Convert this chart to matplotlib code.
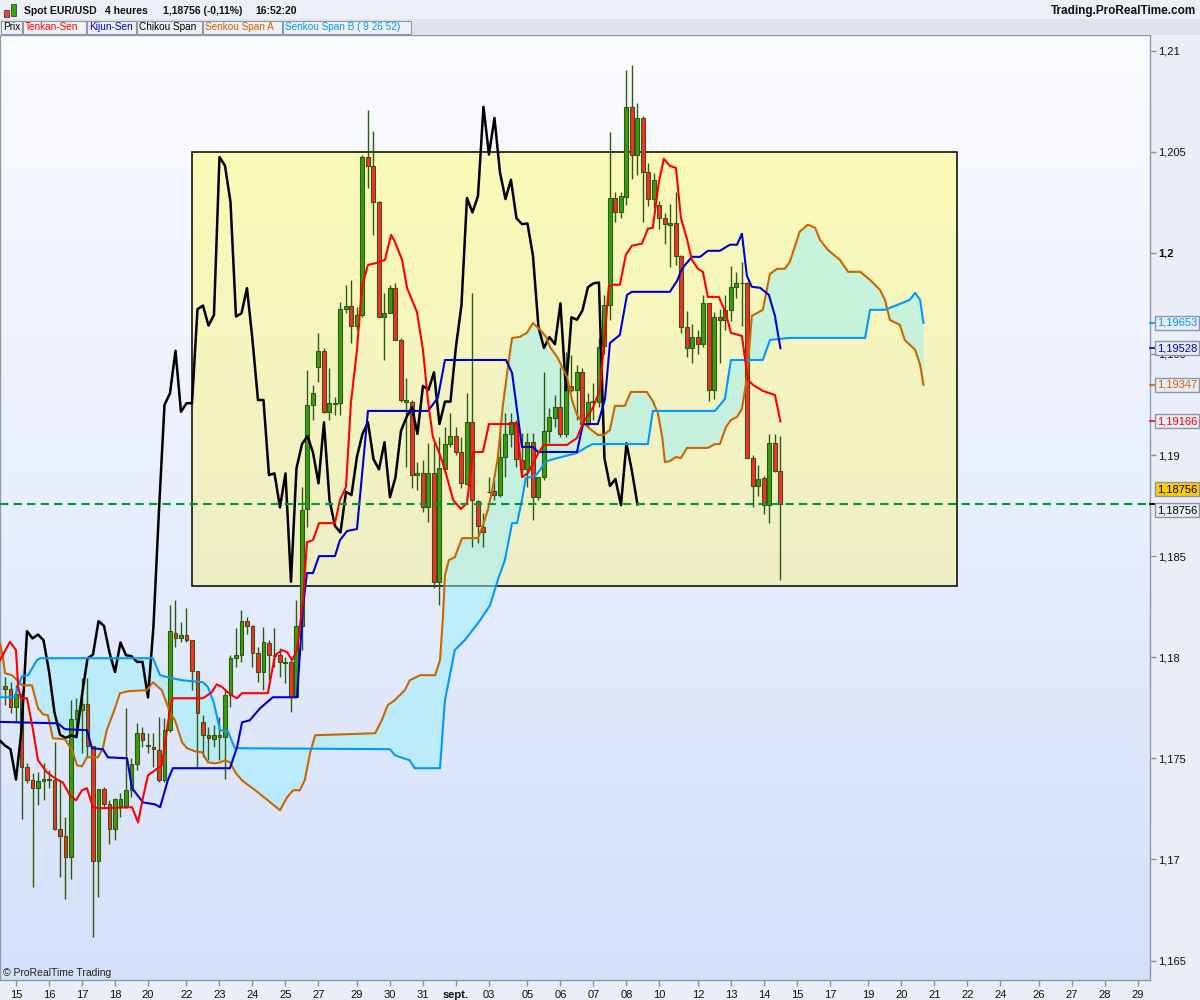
import numpy as np
import matplotlib
matplotlib.use("Agg")
import matplotlib.pyplot as plt
from matplotlib.patches import Rectangle
from matplotlib.colors import LinearSegmentedColormap
from matplotlib.transforms import blended_transform_factory

plt.rcParams['font.family'] = ['Liberation Sans', 'DejaVu Sans']

# EUR/USD 4h candles, bar 0 = first bar visible on the left edge
opens = [1.17858, 1.17845, 1.17754, 1.17820, 1.17457, 1.17395, 1.17355, 1.17388, 1.17398, 1.17391,
         1.17152, 1.17114, 1.17012, 1.17692, 1.17738, 1.17771, 1.17560, 1.16992, 1.17350, 1.17276,
         1.17152, 1.17264, 1.17264, 1.17342, 1.17474, 1.17627, 1.17560, 1.17556, 1.17540, 1.17391,
         1.17639, 1.18122, 1.18093, 1.18112, 1.18084, 1.17931, 1.17682, 1.17617, 1.17594, 1.17613,
         1.17606, 1.17812, 1.17994, 1.18013, 1.18178, 1.18155, 1.18023, 1.17927, 1.18068, 1.18010,
         1.18010, 1.17972, 1.17977, 1.17801, 1.18155, 1.18731, 1.19248, 1.19437, 1.19515, 1.19214,
         1.19252, 1.19256, 1.19721, 1.19739, 1.19640, 1.19690, 1.20474, 1.20431, 1.20251, 1.19685,
         1.19701, 1.19825, 1.19569, 1.19264, 1.19264, 1.18901, 1.18909, 1.18741, 1.18909, 1.18373,
         1.18929, 1.19054, 1.19094, 1.19013, 1.18856, 1.19162, 1.18772, 1.18645, 1.18815, 1.18822,
         1.18802, 1.18992, 1.19104, 1.19162, 1.18975, 1.18929, 1.19063, 1.18791, 1.18890, 1.19119,
         1.19182, 1.19236, 1.19104, 1.19343, 1.19322, 1.19409, 1.19153, 1.19262, 1.19264, 1.19538,
         1.19741, 1.20271, 1.20200, 1.20278, 1.20722, 1.20486, 1.20667, 1.20398, 1.20266, 1.20236,
         1.20171, 1.20140, 1.20145, 1.19986, 1.19633, 1.19530, 1.19583, 1.19548, 1.19750, 1.19320,
         1.19681, 1.19669, 1.19715, 1.19830, 1.19849, 1.19853, 1.18984, 1.18847, 1.18884, 1.18752,
         1.19058, 1.18920]
highs = [1.17903, 1.17878, 1.17861, 1.17828, 1.17475, 1.17426, 1.17432, 1.17475, 1.17441, 1.17581,
         1.17391, 1.17210, 1.17787, 1.17797, 1.17896, 1.17896, 1.17560, 1.17350, 1.17358, 1.17292,
         1.17302, 1.17327, 1.17748, 1.17500, 1.17673, 1.17655, 1.17624, 1.17624, 1.17703, 1.17698,
         1.18257, 1.18282, 1.18175, 1.18243, 1.18084, 1.17931, 1.17713, 1.17655, 1.17663, 1.17705,
         1.17837, 1.18010, 1.18142, 1.18233, 1.18200, 1.18159, 1.18051, 1.18150, 1.18084, 1.18144,
         1.18045, 1.18002, 1.17985, 1.18282, 1.18843, 1.19421, 1.19347, 1.19602, 1.19530, 1.19431,
         1.19289, 1.19759, 1.19842, 1.19866, 1.19734, 1.20485, 1.20708, 1.20600, 1.20254, 1.19800,
         1.19842, 1.19850, 1.19578, 1.19380, 1.19272, 1.18967, 1.18975, 1.19058, 1.19058, 1.19091,
         1.19140, 1.19206, 1.19140, 1.19091, 1.19305, 1.19800, 1.18777, 1.18711, 1.18893, 1.18876,
         1.19115, 1.19206, 1.19206, 1.19173, 1.19107, 1.19107, 1.19107, 1.18893, 1.19412, 1.19231,
         1.19297, 1.19437, 1.19511, 1.19495, 1.19446, 1.19429, 1.19305, 1.19355, 1.19578, 1.19792,
         1.20599, 1.20302, 1.20302, 1.20906, 1.20931, 1.20742, 1.20678, 1.20445, 1.20396, 1.20257,
         1.20198, 1.20242, 1.20302, 1.19990, 1.19710, 1.19646, 1.19619, 1.19792, 1.19750, 1.19708,
         1.19723, 1.19792, 1.19936, 1.19906, 1.19953, 1.19856, 1.19000, 1.18950, 1.18898, 1.19104,
         1.19104, 1.19096]
lows = [1.17763, 1.17723, 1.17680, 1.17202, 1.17376, 1.16863, 1.17267, 1.17292, 1.17352, 1.17144,
        1.16913, 1.16806, 1.16905, 1.17599, 1.17525, 1.17507, 1.16616, 1.16814, 1.17259, 1.17078,
        1.17094, 1.17210, 1.17253, 1.17309, 1.17441, 1.17556, 1.17525, 1.17457, 1.17381, 1.17381,
        1.17629, 1.18051, 1.18076, 1.18076, 1.17837, 1.17457, 1.17507, 1.17490, 1.17556, 1.17490,
        1.17400, 1.17754, 1.17952, 1.17977, 1.18117, 1.17952, 1.17878, 1.17837, 1.17886, 1.17952,
        1.17903, 1.17870, 1.17729, 1.17801, 1.18035, 1.18645, 1.19173, 1.19363, 1.19208, 1.19173,
        1.19198, 1.19198, 1.19701, 1.19553, 1.19619, 1.19685, 1.20320, 1.20089, 1.19685, 1.19470,
        1.19701, 1.19569, 1.19264, 1.18942, 1.18835, 1.18827, 1.18719, 1.18670, 1.18340, 1.18258,
        1.18917, 1.19041, 1.19000, 1.18835, 1.18852, 1.18546, 1.18563, 1.18546, 1.18810, 1.18777,
        1.18794, 1.18893, 1.19041, 1.18942, 1.18893, 1.18843, 1.18678, 1.18777, 1.18876, 1.19058,
        1.19140, 1.19091, 1.19091, 1.19313, 1.19173, 1.19140, 1.19132, 1.19173, 1.19239, 1.19500,
        1.19668, 1.20153, 1.20173, 1.20238, 1.20366, 1.20386, 1.20153, 1.20233, 1.20223, 1.20119,
        1.20044, 1.19931, 1.19940, 1.19604, 1.19483, 1.19457, 1.19500, 1.19535, 1.19267, 1.19277,
        1.19455, 1.19619, 1.19663, 1.19777, 1.19639, 1.18984, 1.18743, 1.18795, 1.18709, 1.18666,
        1.18915, 1.18381]
closes = [1.17845, 1.17754, 1.17820, 1.17457, 1.17395, 1.17355, 1.17388, 1.17398, 1.17391, 1.17152,
          1.17114, 1.17012, 1.17692, 1.17738, 1.17771, 1.17560, 1.16992, 1.17350, 1.17276, 1.17152,
          1.17301, 1.17301, 1.17342, 1.17474, 1.17627, 1.17589, 1.17563, 1.17545, 1.17395, 1.17639,
          1.18129, 1.18093, 1.18112, 1.18084, 1.17931, 1.17726, 1.17617, 1.17601, 1.17613, 1.17606,
          1.17812, 1.17994, 1.18013, 1.18178, 1.18155, 1.18023, 1.17927, 1.18073, 1.18010, 1.18005,
          1.17977, 1.17977, 1.17801, 1.18155, 1.18728, 1.19248, 1.19305, 1.19515, 1.19214, 1.19256,
          1.19256, 1.19721, 1.19739, 1.19640, 1.19693, 1.20474, 1.20431, 1.20251, 1.19685, 1.19701,
          1.19825, 1.19569, 1.19272, 1.19272, 1.18901, 1.18909, 1.18741, 1.18909, 1.18373, 1.18934,
          1.19054, 1.19094, 1.19013, 1.18860, 1.19162, 1.18777, 1.18649, 1.18617, 1.18818, 1.18802,
          1.18992, 1.19104, 1.19162, 1.18980, 1.18929, 1.19063, 1.18791, 1.18890, 1.19119, 1.19187,
          1.19236, 1.19104, 1.19342, 1.19322, 1.19409, 1.19153, 1.19264, 1.19264, 1.19536, 1.19741,
          1.20271, 1.20200, 1.20280, 1.20722, 1.20486, 1.20667, 1.20398, 1.20266, 1.20361, 1.20171,
          1.20142, 1.20145, 1.19986, 1.19633, 1.19530, 1.19583, 1.19548, 1.19750, 1.19320, 1.19681,
          1.19669, 1.19715, 1.19830, 1.19849, 1.19853, 1.18984, 1.18847, 1.18881, 1.18752, 1.19058,
          1.18920, 1.18756]

# Ichimoku lines, vertices (bar index, price)
tenkan_idx = [-0.9, 0.9, 2.0, 2.4, 2.9, 4.0, 5.1, 6.0, 7.6, 9.1, 10.5, 11.8, 12.9, 14.0, 14.9, 16.0, 17.3,
              23.1, 24.2, 25.1, 26.0, 28.5, 30.0, 30.5, 36.0, 37.6, 38.5, 39.5, 40.9, 42.2, 43.1, 47.8,
              49.1, 50.4, 51.3, 52.2, 53.1, 54.2, 54.9, 56.0, 57.1, 60.0, 60.9, 62.0, 62.9, 64.0, 64.9,
              66.0, 67.6, 69.1, 70.2, 70.9, 72.2, 73.1, 74.9, 76.0, 76.9, 77.8, 79.1, 80.0, 81.5, 82.9,
              84.0, 85.1, 86.9, 88.0, 93.1, 94.0, 95.1, 97.1, 98.0, 102.2, 104.0, 105.1, 106.9, 108.2,
              109.8, 110.5, 111.8, 112.9, 114.0, 115.8, 116.9, 117.8, 118.9, 119.8, 120.9, 122.0, 122.9,
              124.0, 124.9, 126.0, 126.9, 127.8, 129.8, 131.1, 132.0, 134.0, 135.1, 136.0, 137.8, 140.0,
              141.0]
tenkan_val = [1.17985, 1.18076, 1.18035, 1.17852, 1.17797, 1.17797, 1.17639, 1.17490, 1.17431, 1.17401,
              1.17381, 1.17317, 1.17292, 1.17342, 1.17352, 1.17258, 1.17253, 1.17258, 1.17183, 1.17307,
              1.17416, 1.17465, 1.17738, 1.17797, 1.17797, 1.17827, 1.17866, 1.17852, 1.17817, 1.17797,
              1.17822, 1.17822, 1.18010, 1.18035, 1.18025, 1.17985, 1.18035, 1.18282, 1.18569, 1.18579,
              1.18663, 1.18663, 1.18777, 1.18842, 1.19257, 1.19520, 1.19832, 1.19940, 1.19950, 1.19965,
              1.20089, 1.20054, 1.19965, 1.19827, 1.19708, 1.19520, 1.19272, 1.19089, 1.19000, 1.18926,
              1.18777, 1.18733, 1.18762, 1.19015, 1.19015, 1.19153, 1.19153, 1.18891, 1.18911, 1.19015,
              1.19050, 1.19050, 1.19084, 1.19158, 1.19233, 1.19322, 1.19832, 1.19842, 1.19842, 1.19990,
              1.20035, 1.20045, 1.20119, 1.20124, 1.20351, 1.20465, 1.20430, 1.20420, 1.20173, 1.20069,
              1.19965, 1.19921, 1.19906, 1.19782, 1.19782, 1.19698, 1.19604, 1.19589, 1.19371, 1.19347,
              1.19317, 1.19297, 1.19166]

kijun_idx = [-0.9, 9.6, 10.9, 14.9, 15.8, 17.8, 18.7, 22.2, 23.1, 25.1, 27.3, 28.2, 29.6, 30.5, 40.9,
             42.2, 43.1, 44.5, 46.4, 48.7, 53.1, 54.2, 54.9, 56.0, 57.1, 60.0, 60.9, 62.2, 64.0, 66.0,
             76.9, 78.7, 80.0, 91.1, 92.2, 94.0, 96.0, 96.9, 104.0, 105.1, 107.8, 109.1, 110.0, 111.8,
             113.1, 114.0, 120.9, 122.2, 123.1, 124.9, 126.4, 127.8, 130.0, 131.8, 133.1, 134.0, 134.9,
             135.8, 137.3, 138.9, 140.0, 141.0]
kijun_val = [1.17680, 1.17673, 1.17644, 1.17639, 1.17550, 1.17545, 1.17505, 1.17500, 1.17352, 1.17282,
             1.17272, 1.17258, 1.17391, 1.17451, 1.17451, 1.17555, 1.17678, 1.17688, 1.17748, 1.17802,
             1.17802, 1.18257, 1.18416, 1.18416, 1.18500, 1.18500, 1.18579, 1.18624, 1.18634, 1.19218,
             1.19218, 1.19282, 1.19470, 1.19470, 1.19406, 1.19040, 1.19040, 1.19015, 1.19015, 1.19153,
             1.19153, 1.19277, 1.19554, 1.19594, 1.19792, 1.19807, 1.19807, 1.19861, 1.19921, 1.19980,
             1.19980, 1.20010, 1.20010, 1.20040, 1.20040, 1.20094, 1.19886, 1.19832, 1.19827, 1.19792,
             1.19688, 1.19528]

spanA_idx = [-0.9, -0.4, 0.0, 1.3, 3.1, 4.9, 6.0, 6.9, 7.8, 8.7, 10.9, 12.2, 13.1, 14.0, 14.9, 16.9,
             17.8, 18.5, 20.0, 20.9, 22.4, 25.8, 26.9, 28.5, 30.0, 30.9, 32.2, 33.1, 34.5, 35.8, 36.9,
             38.2, 39.1, 40.0, 40.9, 42.0, 43.1, 45.5, 47.8, 50.0, 51.3, 52.4, 53.6, 54.5, 55.5, 56.4,
             67.3, 68.5, 69.6, 70.9, 72.7, 73.6, 75.5, 78.2, 79.1, 79.6, 80.0, 80.7, 81.8, 83.1, 86.0,
             86.9, 87.8, 88.7, 89.6, 90.5, 91.5, 92.2, 93.6, 94.9, 96.0, 97.3, 98.4, 99.1, 100.5, 102.2,
             103.1, 104.0, 104.9, 106.4, 107.8, 108.9, 110.0, 110.9, 112.7, 113.8, 116.7, 117.8, 118.7,
             119.5, 120.0, 120.9, 122.0, 122.9, 124.0, 127.8, 129.1, 130.0, 131.1, 132.0, 133.1, 134.0,
             134.9, 135.8, 137.8, 139.1, 140.4, 141.8, 142.7, 144.5, 146.0, 147.3, 148.2, 149.6, 151.8,
             153.3, 155.5, 157.3, 159.1, 160.0, 160.9, 162.7, 163.6, 165.5, 166.4, 167.0]
spanA_val = [1.18069, 1.18000, 1.17921, 1.17911, 1.17861, 1.17861, 1.17748, 1.17718, 1.17713, 1.17599,
             1.17594, 1.17540, 1.17465, 1.17460, 1.17505, 1.17505, 1.17550, 1.17639, 1.17748, 1.17822,
             1.17832, 1.17837, 1.17876, 1.17837, 1.17728, 1.17688, 1.17579, 1.17550, 1.17535, 1.17530,
             1.17480, 1.17475, 1.17480, 1.17490, 1.17480, 1.17426, 1.17391, 1.17342, 1.17292, 1.17243,
             1.17307, 1.17342, 1.17342, 1.17391, 1.17530, 1.17614, 1.17624, 1.17688, 1.17763, 1.17788,
             1.17837, 1.17886, 1.17911, 1.17911, 1.17985, 1.18183, 1.18406, 1.18480, 1.18495, 1.18589,
             1.18589, 1.18653, 1.18728, 1.18842, 1.18985, 1.19238, 1.19446, 1.19579, 1.19584, 1.19604,
             1.19653, 1.19619, 1.19584, 1.19535, 1.19480, 1.19386, 1.19272, 1.19198, 1.19163, 1.19129,
             1.19099, 1.19099, 1.19124, 1.19243, 1.19243, 1.19312, 1.19312, 1.19267, 1.19208, 1.19089,
             1.18965, 1.18970, 1.18990, 1.18985, 1.19035, 1.19035, 1.19054, 1.19054, 1.19139, 1.19173,
             1.19188, 1.19228, 1.19381, 1.19688, 1.19718, 1.19896, 1.19921, 1.19921, 1.19955, 1.20104,
             1.20139, 1.20124, 1.20064, 1.20015, 1.19965, 1.19906, 1.19906, 1.19866, 1.19817, 1.19767,
             1.19668, 1.19644, 1.19569, 1.19520, 1.19446, 1.19347]

spanB_idx = [-0.9, 1.8, 2.4, 3.1, 4.2, 5.8, 6.4, 26.9, 27.5, 28.2, 29.6, 32.2, 36.0, 36.9, 38.0, 39.1,
             40.5, 41.8, 70.0, 70.9, 73.6, 74.5, 79.1, 80.0, 81.8, 83.6, 86.4, 88.2, 89.6, 90.9, 91.5,
             92.2, 93.1, 94.0, 94.7, 96.4, 97.3, 98.2, 99.1, 104.0, 105.8, 106.9, 116.9, 117.8, 129.1,
             130.9, 132.0, 137.8, 139.1, 142.7, 156.4, 157.3, 160.0, 164.5, 165.5, 166.4, 167.0]
spanB_val = [1.17802, 1.17802, 1.17861, 1.17906, 1.17911, 1.17985, 1.17995, 1.17995, 1.17956, 1.17911,
             1.17901, 1.17886, 1.17876, 1.17852, 1.17772, 1.17639, 1.17634, 1.17550, 1.17545, 1.17515,
             1.17490, 1.17451, 1.17451, 1.17788, 1.18036, 1.18084, 1.18183, 1.18257, 1.18381, 1.18480,
             1.18564, 1.18663, 1.18663, 1.18777, 1.18886, 1.18896, 1.18926, 1.18965, 1.18975, 1.19010,
             1.19040, 1.19054, 1.19054, 1.19218, 1.19218, 1.19277, 1.19470, 1.19470, 1.19569, 1.19579,
             1.19579, 1.19718, 1.19718, 1.19767, 1.19802, 1.19767, 1.19653]

chikou_shift = 26

xtick_pos = [2, 8, 14, 20, 26, 33, 39, 45, 51, 57, 64, 70, 76, 82, 88, 95, 101, 107, 113, 119,
             126, 132, 138, 144, 150, 157, 163, 169, 175, 181, 188, 194, 200, 206]
xtick_lab = ['15', '16', '17', '18', '20', '22', '23', '24', '25', '27', '29', '30', '31', 'sept.',
             '03', '05', '06', '07', '08', '10', '12', '13', '14', '15', '17', '19', '20', '21', '22',
             '24', '26', '27', '28', '29']
ytick_val = [1.165, 1.17, 1.175, 1.18, 1.185, 1.19, 1.195, 1.2, 1.205, 1.21]
ytick_lab = ['1,165', '1,17', '1,175', '1,18', '1,185', '1,19', '1,195', '1,2', '1,205', '1,21']

# highlighted zone (yellow box)
zone = (34.0, 173.1, 1.18352, 1.205)

W, H = 1200, 1000


def fx(px):
    return px / W


def fy(py):
    return 1 - py / H


fig = plt.figure(figsize=(12, 10), dpi=100)
fig.patch.set_facecolor('#e9eef8')

ax = fig.add_axes([0, fy(980), fx(1150), (980 - 35) / H])

# background gradient
bg = LinearSegmentedColormap.from_list('bg', ['#fbfcff', '#d4e0f9'])
ax.imshow(np.linspace(0, 1, 256)[:, None], cmap=bg, extent=(0, 1, 0, 1),
          transform=ax.transAxes, aspect='auto', zorder=0)

# yellow zone
yel = LinearSegmentedColormap.from_list('yel', ['#fbfab8', '#eeeec6'])
ax.imshow(np.linspace(0, 1, 64)[:, None], cmap=yel, extent=zone, aspect='auto', zorder=1)
ax.add_patch(Rectangle((zone[0], zone[2]), zone[1] - zone[0], zone[3] - zone[2],
                       fill=False, edgecolor='black', lw=1.1, zorder=1.5))

# kumo
ax.fill(np.r_[spanA_idx, spanB_idx[::-1]], np.r_[spanA_val, spanB_val[::-1]],
        color='#99f0fc', alpha=0.5, lw=0, zorder=2)

# candles
o, h, l, c = (np.array(v) for v in (opens, highs, lows, closes))
idx = np.arange(len(o))
up = c >= o
edge = '#2f5a12'
ax.vlines(idx, l, h, color=edge, lw=1, zorder=3)
ax.bar(idx, np.maximum(np.abs(c - o), 0.00004), bottom=np.minimum(o, c), width=0.72,
       color=np.where(up, '#3a9c0c', '#ff2a2a'), edgecolor=edge, linewidth=0.8, zorder=4)

# ichimoku lines
ax.plot(idx - chikou_shift, c, color='black', lw=1.8, zorder=5)
ax.plot(spanA_idx, spanA_val, color='#cc6600', lw=1.5, zorder=5)
ax.plot(spanB_idx, spanB_val, color='#0099ff', lw=1.5, zorder=5)
ax.plot(kijun_idx, kijun_val, color='#0000cc', lw=1.5, zorder=5)
ax.plot(tenkan_idx, tenkan_val, color='#ff0000', lw=1.5, zorder=5)

# last price
ax.axhline(closes[-1], color='#009933', lw=1.5, ls=(0, (4, 2.5)), zorder=6)

ax.set_xlim(-0.91, 208.2)
ax.set_ylim(1.164036, 1.210772)

for sp in ax.spines.values():
    sp.set_color('#8e99ab')
    sp.set_linewidth(1)

ax.yaxis.tick_right()
ax.set_yticks(ytick_val)
for t in ax.set_yticklabels(ytick_lab):
    if t.get_text() == '1,2':
        t.set_fontweight('bold')
ax.tick_params(axis='y', direction='out', length=4, width=1, color='#8a94a6',
               labelsize=8, pad=2, labelcolor='#111111')

ax.set_xticks(xtick_pos)
for t in ax.set_xticklabels(xtick_lab):
    if t.get_text() == 'sept.':
        t.set_fontweight('bold')
ax.tick_params(axis='x', direction='out', length=4, width=1, color='#8a94a6',
               labelsize=8, pad=3, labelcolor='#111111')

# value tags on the price scale
blend = blended_transform_factory(ax.transAxes, ax.transData)
tags = [
    (spanB_val[-1], '#0099ff', '#e8ecf5', 0),
    (kijun_val[-1], '#0000cc', '#e8ecf5', 0),
    (spanA_val[-1], '#cc6600', '#e8ecf5', 0),
    (tenkan_val[-1], '#ff0000', '#e8ecf5', 0),
    (closes[-1], '#000000', '#ffcc00', 15),
    (closes[-1], '#000000', '#e8ecf5', -6),
]
for val, col, fc, dy in tags:
    ax.plot([1.0, 1.0045], [val, val], transform=blend, clip_on=False, color=col, lw=1.2, zorder=7)
    ax.annotate(f"{val:.5f}".replace('.', ','), xy=(1.0, val), xycoords=blend,
                xytext=(7, dy), textcoords='offset pixels', ha='left', va='center',
                fontsize=8, color=col, annotation_clip=False, zorder=8,
                bbox=dict(boxstyle='square,pad=0.18', fc=fc, ec='#8c96a8', lw=1))

ax.text(3 / 1150, 7 / 945, '\u00a9 ProRealTime Trading', transform=ax.transAxes,
        fontsize=7.5, color='#222222', va='center', ha='left', zorder=8)

# header
fig.patches.append(Rectangle((0, fy(19)), 1, 19 / H, transform=fig.transFigure,
                             fc='#eceff5', ec='none', zorder=0))
fig.patches.append(Rectangle((0, fy(35)), 1, 16 / H, transform=fig.transFigure,
                             fc='#dfe4ec', ec='none', zorder=0))

# small candle icon
fig.patches.append(Rectangle((fx(4), fy(17)), fx(5), 7 / H, transform=fig.transFigure,
                             fc='#ff3b3b', ec='#444444', lw=0.6))
fig.patches.append(Rectangle((fx(11), fy(16)), fx(5), 12 / H, transform=fig.transFigure,
                             fc='#33aa00', ec='#444444', lw=0.6))
fig.lines.append(plt.Line2D([fx(6.5), fx(6.5)], [fy(19), fy(8)], transform=fig.transFigure,
                            color='#444444', lw=0.6, zorder=0))
fig.lines.append(plt.Line2D([fx(13.5), fx(13.5)], [fy(18), fy(2)], transform=fig.transFigure,
                            color='#444444', lw=0.6, zorder=0))

for x, s in [(24, 'Spot EUR/USD'), (105, '4 heures'), (163, '1,18756 (-0,11%)'), (255, '16:52:20')]:
    fig.text(fx(x), fy(11), s, fontsize=7.5, fontweight='bold', va='center', ha='left', color='#111111')
fig.text(fx(1196), fy(11), 'Trading.ProRealTime.com', fontsize=8.5, fontweight='bold',
         va='center', ha='right', color='#111111')

legend_boxes = [(1, 22, 'Prix', '#000000'), (23, 86, 'Tenkan-Sen', '#ff0000'),
                (87, 136, 'Kijun-Sen', '#0000cc'), (137, 202, 'Chikou Span', '#000000'),
                (203, 282, 'Senkou Span A', '#cc6600'),
                (283, 411, 'Senkou Span B ( 9 26 52)', '#0099ff')]
for x0, x1, s, col in legend_boxes:
    fig.patches.append(Rectangle((fx(x0), fy(34)), fx(x1 - x0), 13 / H, transform=fig.transFigure,
                                 fc='#eef0f4', ec='#8e98a8', lw=0.8))
    fig.text(fx(x0 + 2), fy(27.5), s, fontsize=7.2, va='center', ha='left', color=col)

fig.savefig('out.png', dpi=100, facecolor=fig.get_facecolor())
